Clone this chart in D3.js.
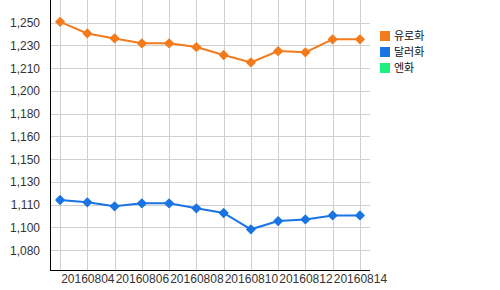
<!DOCTYPE html>
<html>
<head>
<meta charset="utf-8">
<script src="https://cdnjs.cloudflare.com/ajax/libs/d3/7.8.5/d3.min.js"></script>
<style>
	body { margin: 0; background: #fff; }
	svg { display: block; font-family: "Noto Sans CJK KR", "DejaVu Sans", sans-serif; }
	.grid line { stroke: #cfcfcf; stroke-width: 1; }
	.axis text { fill: #333; font-size: 12px; }
	.legend text { fill: #111; font-size: 11px; }
</style>
</head>
<body>
<svg width="500" height="290"></svg>
<script>
// dates on the x axis
var dates = ["20160803","20160804","20160805","20160806","20160807","20160808",
	"20160809","20160810","20160811","20160812","20160813","20160814"];
// series values
var euro   = [1250.7, 1242.0, 1238.3, 1234.6, 1234.6, 1231.8, 1225.9, 1220.4, 1228.8, 1227.9, 1237.6, 1237.6];
var dollar = [1117.5, 1115.8, 1112.8, 1115.0, 1115.0, 1111.3, 1107.8, 1095.6, 1101.8, 1103.0, 1106.0, 1106.0];
// y tick labels as printed on the chart (evenly spaced, step of 17)
var yTickLabels = ["1,080","1,100","1,110","1,130","1,150","1,160","1,180","1,200","1,210","1,230","1,250"];
var yTickValues = [1080, 1097, 1114, 1131, 1148, 1165, 1182, 1199, 1216, 1233, 1250];
var legendNames = ["유로화", "달러화", "엔화"];
var colors = ["#f47b1c", "#1a74e3", "#1df07f"];

var svg = d3.select("svg"),
	margin = {top: 0, right: 130, bottom: 20, left: 50},
	width = 500 - margin.left - margin.right,
	height = 290 - margin.top - margin.bottom,
	g = svg.append("g").attr("transform", "translate(" + margin.left + "," + margin.top + ")");

var x = d3.scalePoint().domain(dates).range([0, width]).padding(0.37);
var y = d3.scaleLinear().domain([1065.2, 1267]).range([height, 0]);

// grid
g.append("g").attr("class", "grid")
	.selectAll("line.h").data(yTickValues).enter().append("line")
	.attr("x1", 0).attr("x2", width)
	.attr("y1", function(d) { return Math.round(y(d)) + 0.5; })
	.attr("y2", function(d) { return Math.round(y(d)) + 0.5; });
g.append("g").attr("class", "grid")
	.selectAll("line.v").data(dates).enter().append("line")
	.attr("y1", 0).attr("y2", height)
	.attr("x1", function(d) { return Math.round(x(d)) + 0.5; })
	.attr("x2", function(d) { return Math.round(x(d)) + 0.5; });

// y axis
var yAxis = g.append("g").attr("class", "axis")
	.call(d3.axisLeft(y).tickValues(yTickValues).tickSize(0).tickPadding(10)
		.tickFormat(function(d, i) { return yTickLabels[i]; }));
yAxis.select(".domain").remove();

// x axis, every other label
var xAxis = g.append("g").attr("class", "axis")
	.attr("transform", "translate(0," + height + ")")
	.call(d3.axisBottom(x).tickSize(0).tickPadding(4)
		.tickFormat(function(d, i) { return i % 2 == 1 ? d : ""; }));
xAxis.select(".domain").remove();

g.append("line").attr("x1", 0.5).attr("x2", 0.5).attr("y1", 0).attr("y2", height + 0.5)
	.attr("stroke", "#000");
g.append("line").attr("x1", 0).attr("x2", width).attr("y1", height + 0.5).attr("y2", height + 0.5)
	.attr("stroke", "#000");

// lines
var series = [euro, dollar];
var line = d3.line()
	.x(function(d, i) { return x(dates[i]); })
	.y(function(d) { return y(d); });
var marker = d3.symbol().type(d3.symbolSquare).size(34);

series.forEach(function(s, k) {
	g.append("path").datum(s)
		.attr("fill", "none")
		.attr("stroke", colors[k])
		.attr("stroke-width", 2)
		.attr("d", line);
	g.selectAll(".pt" + k).data(s).enter().append("path")
		.attr("class", "pt" + k)
		.attr("d", marker)
		.attr("fill", colors[k])
		.attr("stroke", colors[k])
		.attr("stroke-width", 1.5)
		.attr("stroke-linejoin", "round")
		.attr("transform", function(d, i) { return "translate(" + x(dates[i]) + "," + y(d) + ") rotate(45)"; });
});

// legend
var legend = svg.append("g").attr("class", "legend").attr("transform", "translate(380,31)");
legendNames.forEach(function(n, i) {
	var row = legend.append("g").attr("transform", "translate(0," + (i * 16) + ")");
	row.append("rect").attr("width", 10).attr("height", 10).attr("fill", colors[i]);
	row.append("text").attr("x", 14).attr("y", 5).attr("dy", "0.35em").text(n);
});
</script>
</body>
</html>
